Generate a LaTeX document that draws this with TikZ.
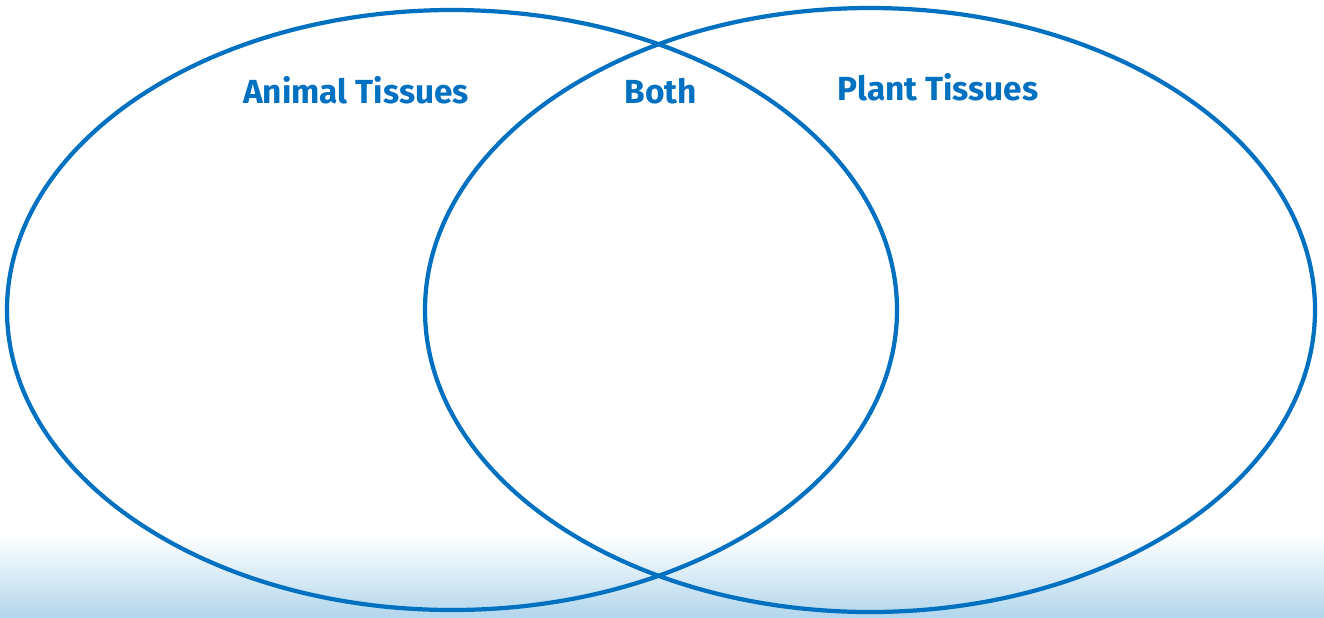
\documentclass[tikz,border=0pt]{standalone}
\usepackage{fontspec}
\setmainfont{Fira Sans}
\usetikzlibrary{shapes.geometric,positioning}
\definecolor{vennBlue}{HTML}{0070C0}
\definecolor{floorBlue}{HTML}{B2D6EC}

\begin{document}
\begin{tikzpicture}[
    vennSet/.style={
        ellipse, draw=vennBlue, line width=2.4pt, inner sep=0pt,
        minimum width=17.8cm, minimum height=12cm
    },
    setLabel/.style={
        text=vennBlue, font=\fontsize{19}{23}\selectfont\bfseries, inner sep=2pt
    }
]
\useasboundingbox (0,0) rectangle (26.48,-12.34);

% Bottom: pale floor shading
\shade[top color=white, bottom color=floorBlue] (0,-10.7) rectangle (26.48,-12.34);

% Sets
\node[vennSet] (animalSet) at (9.04,-6.2) {};
\node[vennSet, minimum height=12.08cm] (plantSet) at (17.4,-6.2) {};

% Labels
\node[setLabel] (animalLbl) at (7.12,-1.8) {Animal Tissues};
\node[setLabel] (bothLbl) at (13.22,-1.82) {Both};
\node[setLabel] (plantLbl) at (18.76,-1.74) {Plant Tissues};

\end{tikzpicture}
\end{document}
